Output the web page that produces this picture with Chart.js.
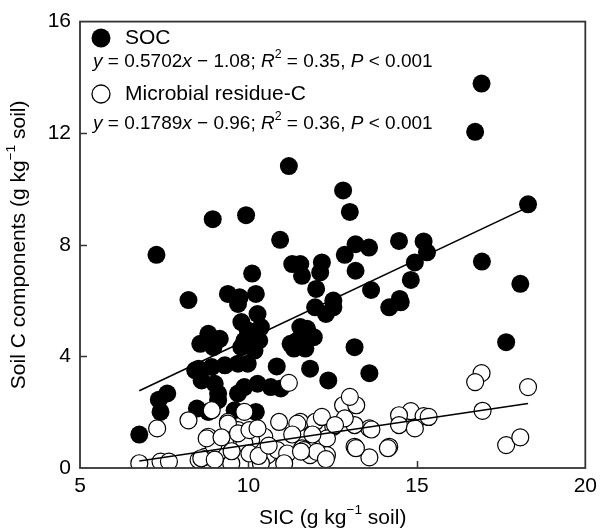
<!DOCTYPE html>
<html>
<head>
<meta charset="utf-8">
<script src="https://cdn.jsdelivr.net/npm/chart.js@4.4.1/dist/chart.umd.min.js"></script>
<style>
  html, body { margin: 0; padding: 0; background: #fff; }
  #chart { display: block; }
</style>
</head>
<body>
<canvas id="chart" width="603" height="531"></canvas>
<script>
/*******************************************************
 * data
 *******************************************************/
const socX = [16.92, 16.73, 11.20, 12.81, 13.01, 18.30, 8.94, 9.93, 10.94, 13.18,
  13.58, 14.47, 15.20, 15.30, 12.86, 7.27, 11.30, 11.54, 12.18, 11.59,
  12.13, 13.18, 14.94, 16.93, 10.11, 14.82, 18.07, 13.64, 12.01, 8.22,
  9.39, 9.74, 10.22, 14.49, 14.18, 12.52, 12.30, 9.69, 10.27, 11.98,
  9.79, 10.37, 9.98, 9.88, 10.32, 9.79, 10.18, 11.74, 11.94, 11.45,
  11.35, 11.69, 8.81, 9.15, 8.57, 8.96, 13.15, 17.65, 13.59, 12.37,
  11.54, 11.25, 11.83, 10.84, 8.52, 8.91, 9.30, 9.69, 9.98, 8.61,
  9.00, 9.88, 10.27, 10.66, 10.96, 9.69, 7.34, 7.59, 7.39, 6.76,
  8.47, 8.81, 9.10, 9.10, 10.22, 9.59, 12.52, 14.52, 8.42];
const socY = [13.78, 12.05, 10.82, 9.95, 9.18, 9.45, 8.92, 9.06, 8.18, 8.02,
  7.90, 8.14, 8.12, 7.73, 7.64, 7.64, 7.31, 7.31, 7.37, 6.89,
  7.01, 7.07, 7.37, 7.40, 6.97, 6.74, 6.60, 6.38, 6.42, 6.02,
  6.24, 6.12, 6.24, 6.06, 5.76, 6.00, 5.52, 5.88, 5.52, 5.76,
  5.23, 5.05, 4.93, 4.57, 4.57, 4.33, 4.21, 4.99, 4.69, 4.57,
  4.28, 4.28, 4.81, 4.63, 4.45, 4.33, 4.33, 4.51, 3.40, 3.14,
  5.05, 4.45, 3.56, 3.64, 3.56, 3.62, 3.68, 3.74, 3.74, 3.14,
  3.02, 2.90, 3.02, 2.90, 2.85, 2.67, 2.45, 2.67, 2.01, 1.20,
  2.13, 2.01, 2.67, 2.43, 2.01, 2.07, 5.76, 5.94, 3.50];

const micX = [16.92, 16.73, 18.30, 16.95, 17.65, 18.07, 14.82, 14.47, 15.20, 15.35,
  14.47, 14.94, 14.18, 13.59, 13.65, 13.15, 12.52, 12.81, 13.20, 13.01,
  13.15, 13.59, 12.33, 12.33, 12.86, 11.54, 11.98, 12.18, 12.57, 11.59,
  11.83, 11.20, 8.91, 9.88, 9.39, 10.91, 11.45, 8.81, 9.69, 10.22,
  10.47, 9.79, 10.08, 9.88, 9.30, 10.03, 10.57, 10.86, 11.15, 11.64,
  12.03, 8.71, 9.49, 10.37, 11.06, 7.29, 8.22, 9.39, 9.69, 10.03,
  10.27, 6.76, 7.39, 7.64, 8.52, 8.60, 8.96, 8.76, 9.50, 9.00,
  10.30, 12.30, 13.19, 14.14, 11.56, 10.60, 11.30, 11.90, 9.20];
const micY = [3.40, 3.08, 2.90, 2.05, 0.82, 1.10, 2.04, 1.89, 1.86, 1.83,
  1.54, 1.42, 0.76, 1.42, 1.38, 1.54, 1.48, 2.25, 2.25, 2.55,
  0.76, 0.38, 1.06, 0.46, 1.78, 1.65, 1.65, 1.83, 1.54, 0.70,
  0.46, 3.05, 2.07, 2.01, 1.65, 1.65, 1.59, 1.12, 1.36, 1.30,
  1.12, 1.05, 1.00, 0.88, 0.64, 0.52, 0.46, 0.64, 0.52, 0.64,
  0.58, 0.40, 0.17, 0.17, 0.17, 1.42, 1.71, 1.59, 1.24, 1.36,
  1.42, 0.17, 0.23, 0.23, 0.29, 0.35, 0.82, 1.06, 0.60, 0.30,
  0.43, 0.32, 0.71, 0.71, 0.59, 0.80, 1.20, 1.20, 1.10];

// fitted lines, end points
const socLineX = [6.76, 18.30];
const socLineY = [2.77, 9.35];
const micLineX = [6.76, 18.30];
const micLineY = [0.25, 2.31];

const xTicks = [5, 10, 15, 20];
const yTicks = [0, 4, 8, 12, 16];

const FONT = '"Liberation Sans", Arial, Helvetica, sans-serif';

function toPts(xs, ys) {
  return xs.map((x, i) => ({ x: x, y: ys[i] }));
}

/*******************************************************
 * rich text (italic + superscript pieces)
 *******************************************************/
function richWidth(ctx, segs, size) {
  let w = 0;
  segs.forEach(s => {
    const fs = s.sup ? size * 0.65 : size;
    ctx.font = (s.it ? 'italic ' : '') + fs + 'px ' + FONT;
    w += ctx.measureText(s.t).width;
  });
  return w;
}

function drawRich(ctx, x, y, segs, size) {
  let cx = x;
  segs.forEach(s => {
    const fs = s.sup ? size * 0.65 : size;
    ctx.font = (s.it ? 'italic ' : '') + fs + 'px ' + FONT;
    ctx.fillText(s.t, cx, y + (s.sup ? -size * 0.38 : 0));
    cx += ctx.measureText(s.t).width;
  });
}

const eqSoc = [
  { t: 'y', it: true }, { t: ' = 0.5702' }, { t: 'x', it: true }, { t: ' \u2212 1.08; ' },
  { t: 'R', it: true }, { t: '2', sup: true }, { t: ' = 0.35, ' },
  { t: 'P', it: true }, { t: ' < 0.001' }
];
const eqMic = [
  { t: 'y', it: true }, { t: ' = 0.1789' }, { t: 'x', it: true }, { t: ' \u2212 0.96; ' },
  { t: 'R', it: true }, { t: '2', sup: true }, { t: ' = 0.36, ' },
  { t: 'P', it: true }, { t: ' < 0.001' }
];
const xTitle = [{ t: 'SIC (g kg' }, { t: '\u22121', sup: true }, { t: ' soil)' }];
const yTitle = [{ t: 'Soil C components (g kg' }, { t: '\u22121', sup: true }, { t: ' soil)' }];

/*******************************************************
 * frame, inward ticks, legend, axis titles
 *******************************************************/
const decorPlugin = {
  id: 'decor',
  afterDatasetsDraw(chart) {
    const ctx = chart.ctx;
    const a = chart.chartArea;
    const xs = chart.scales.x, ys = chart.scales.y;
    ctx.save();

    // frame
    ctx.strokeStyle = '#333';
    ctx.lineWidth = 1.8;
    ctx.strokeRect(a.left, a.top, a.right - a.left, a.bottom - a.top);

    // inward ticks
    ctx.lineWidth = 1.5;
    ctx.beginPath();
    xTicks.slice(1, -1).forEach(v => {
      const px = Math.round(xs.getPixelForValue(v)) + 0.5;
      ctx.moveTo(px, a.bottom);
      ctx.lineTo(px, a.bottom - 7);
    });
    yTicks.slice(1, -1).forEach(v => {
      const py = Math.round(ys.getPixelForValue(v)) + 0.5;
      ctx.moveTo(a.left, py);
      ctx.lineTo(a.left + 7, py);
    });
    ctx.stroke();

    // legend
    ctx.fillStyle = '#000';
    ctx.strokeStyle = '#000';
    ctx.beginPath();
    ctx.arc(101, 38, 9.5, 0, Math.PI * 2);
    ctx.fill();
    ctx.lineWidth = 1.3;
    ctx.beginPath();
    ctx.arc(101, 94, 9, 0, Math.PI * 2);
    ctx.fillStyle = '#fff';
    ctx.fill();
    ctx.stroke();

    ctx.fillStyle = '#000';
    ctx.textAlign = 'left';
    ctx.textBaseline = 'middle';
    ctx.font = '21px ' + FONT;
    ctx.fillText('SOC', 125, 38);
    ctx.fillText('Microbial residue-C', 125, 94);
    drawRich(ctx, 93, 62, eqSoc, 19);
    drawRich(ctx, 93, 124, eqMic, 19);

    // axis titles
    const xw = richWidth(ctx, xTitle, 21);
    drawRich(ctx, (a.left + a.right) / 2 - xw / 2, 518, xTitle, 21);

    const yw = richWidth(ctx, yTitle, 21);
    ctx.translate(19, (a.top + a.bottom) / 2);
    ctx.rotate(-Math.PI / 2);
    drawRich(ctx, -yw / 2, 0, yTitle, 21);

    ctx.restore();
  }
};

/*******************************************************
 * chart
 *******************************************************/
const ctx = document.getElementById('chart').getContext('2d');
new Chart(ctx, {
  type: 'scatter',
  data: {
    datasets: [
      {
        type: 'line',
        label: 'SOC fit',
        data: toPts(socLineX, socLineY),
        borderColor: '#000',
        borderWidth: 1.6,
        pointRadius: 0,
        fill: false,
        order: 0
      },
      {
        type: 'line',
        label: 'Microbial residue-C fit',
        data: toPts(micLineX, micLineY),
        borderColor: '#000',
        borderWidth: 1.6,
        pointRadius: 0,
        fill: false,
        order: 0
      },
      {
        label: 'Microbial residue-C',
        data: toPts(micX, micY),
        pointRadius: 8.5,
        backgroundColor: '#fff',
        borderColor: '#000',
        borderWidth: 1.2,
        order: 1
      },
      {
        label: 'SOC',
        data: toPts(socX, socY),
        pointRadius: 9,
        backgroundColor: '#000',
        borderColor: '#000',
        borderWidth: 0,
        order: 2
      }
    ]
  },
  options: {
    responsive: false,
    animation: false,
    layout: { padding: { left: 0, top: 20, right: 11, bottom: 0 } },
    plugins: {
      legend: { display: false },
      tooltip: { enabled: false }
    },
    scales: {
      x: {
        type: 'linear',
        min: 5,
        max: 20,
        afterFit: s => { s.height = 63; },
        afterBuildTicks: s => { s.ticks = xTicks.map(v => ({ value: v })); },
        grid: { display: false, drawTicks: false },
        border: { display: false },
        ticks: {
          color: '#000',
          padding: 6,
          font: { family: FONT, size: 21 }
        }
      },
      y: {
        type: 'linear',
        min: 0,
        max: 16,
        afterFit: s => { s.width = 80; },
        afterBuildTicks: s => { s.ticks = yTicks.map(v => ({ value: v })); },
        grid: { display: false, drawTicks: false },
        border: { display: false },
        ticks: {
          color: '#000',
          padding: 9,
          font: { family: FONT, size: 21 }
        }
      }
    }
  },
  plugins: [decorPlugin]
});
</script>
</body>
</html>
